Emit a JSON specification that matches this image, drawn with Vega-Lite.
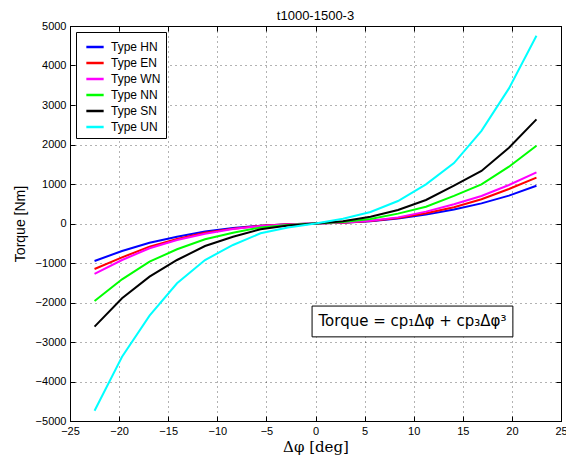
{
  "$schema": "https://vega.github.io/schema/vega-lite/v6.json",
  "width": 491,
  "height": 395,
  "autosize": {"type": "none"},
  "padding": {"left": 70, "top": 26, "right": 5, "bottom": 38},
  "title": {"text": "t1000-1500-3", "fontSize": 13, "fontWeight": "normal", "font": "Liberation Sans", "offset": 1, "dy": 4, "color": "#000"},
  "datasets": {
    "curves": [
      {"type": "Type HN", "x": -22.5, "torque": -949}, {"type": "Type HN", "x": -19.7, "torque": -696}, {"type": "Type HN", "x": -16.9, "torque": -486}, {"type": "Type HN", "x": -14.1, "torque": -334}, {"type": "Type HN", "x": -11.25, "torque": -205}, {"type": "Type HN", "x": -8.4, "torque": -115}, {"type": "Type HN", "x": -5.6, "torque": -55}, {"type": "Type HN", "x": -2.8, "torque": -20}, {"type": "Type HN", "x": 0, "torque": 0}, {"type": "Type HN", "x": 2.8, "torque": 22}, {"type": "Type HN", "x": 5.6, "torque": 60}, {"type": "Type HN", "x": 8.4, "torque": 125}, {"type": "Type HN", "x": 11.25, "torque": 225}, {"type": "Type HN", "x": 14.1, "torque": 355}, {"type": "Type HN", "x": 16.9, "torque": 510}, {"type": "Type HN", "x": 19.7, "torque": 705}, {"type": "Type HN", "x": 22.5, "torque": 957},
      {"type": "Type EN", "x": -22.5, "torque": -1152}, {"type": "Type EN", "x": -19.7, "torque": -857}, {"type": "Type EN", "x": -16.9, "torque": -587}, {"type": "Type EN", "x": -14.1, "torque": -392}, {"type": "Type EN", "x": -11.25, "torque": -235}, {"type": "Type EN", "x": -8.4, "torque": -130}, {"type": "Type EN", "x": -5.6, "torque": -60}, {"type": "Type EN", "x": -2.8, "torque": -22}, {"type": "Type EN", "x": 0, "torque": 0}, {"type": "Type EN", "x": 2.8, "torque": 22}, {"type": "Type EN", "x": 5.6, "torque": 65}, {"type": "Type EN", "x": 8.4, "torque": 140}, {"type": "Type EN", "x": 11.25, "torque": 258}, {"type": "Type EN", "x": 14.1, "torque": 410}, {"type": "Type EN", "x": 16.9, "torque": 613}, {"type": "Type EN", "x": 19.7, "torque": 873}, {"type": "Type EN", "x": 22.5, "torque": 1160},
      {"type": "Type WN", "x": -22.5, "torque": -1278}, {"type": "Type WN", "x": -19.7, "torque": -924}, {"type": "Type WN", "x": -16.9, "torque": -628}, {"type": "Type WN", "x": -14.1, "torque": -418}, {"type": "Type WN", "x": -11.25, "torque": -260}, {"type": "Type WN", "x": -8.4, "torque": -140}, {"type": "Type WN", "x": -5.6, "torque": -65}, {"type": "Type WN", "x": -2.8, "torque": -24}, {"type": "Type WN", "x": 0, "torque": 0}, {"type": "Type WN", "x": 2.8, "torque": 24}, {"type": "Type WN", "x": 5.6, "torque": 70}, {"type": "Type WN", "x": 8.4, "torque": 155}, {"type": "Type WN", "x": 11.25, "torque": 300}, {"type": "Type WN", "x": 14.1, "torque": 486}, {"type": "Type WN", "x": 16.9, "torque": 696}, {"type": "Type WN", "x": 19.7, "torque": 975}, {"type": "Type WN", "x": 22.5, "torque": 1296},
      {"type": "Type NN", "x": -22.5, "torque": -1962}, {"type": "Type NN", "x": -19.7, "torque": -1413}, {"type": "Type NN", "x": -16.9, "torque": -967}, {"type": "Type NN", "x": -14.1, "torque": -653}, {"type": "Type NN", "x": -11.25, "torque": -400}, {"type": "Type NN", "x": -8.4, "torque": -233}, {"type": "Type NN", "x": -5.6, "torque": -100}, {"type": "Type NN", "x": -2.8, "torque": -35}, {"type": "Type NN", "x": 0, "torque": 0}, {"type": "Type NN", "x": 2.8, "torque": 35}, {"type": "Type NN", "x": 5.6, "torque": 114}, {"type": "Type NN", "x": 8.4, "torque": 250}, {"type": "Type NN", "x": 11.25, "torque": 425}, {"type": "Type NN", "x": 14.1, "torque": 700}, {"type": "Type NN", "x": 16.9, "torque": 992}, {"type": "Type NN", "x": 19.7, "torque": 1438}, {"type": "Type NN", "x": 22.5, "torque": 1970},
      {"type": "Type SN", "x": -22.5, "torque": -2612}, {"type": "Type SN", "x": -19.7, "torque": -1894}, {"type": "Type SN", "x": -16.9, "torque": -1346}, {"type": "Type SN", "x": -14.1, "torque": -924}, {"type": "Type SN", "x": -11.25, "torque": -570}, {"type": "Type SN", "x": -8.4, "torque": -334}, {"type": "Type SN", "x": -5.6, "torque": -147}, {"type": "Type SN", "x": -2.8, "torque": -50}, {"type": "Type SN", "x": 0, "torque": 0}, {"type": "Type SN", "x": 2.8, "torque": 55}, {"type": "Type SN", "x": 5.6, "torque": 172}, {"type": "Type SN", "x": 8.4, "torque": 342}, {"type": "Type SN", "x": 11.25, "torque": 595}, {"type": "Type SN", "x": 14.1, "torque": 957}, {"type": "Type SN", "x": 16.9, "torque": 1329}, {"type": "Type SN", "x": 19.7, "torque": 1920}, {"type": "Type SN", "x": 22.5, "torque": 2637},
      {"type": "Type UN", "x": -22.5, "torque": -4739}, {"type": "Type UN", "x": -19.7, "torque": -3372}, {"type": "Type UN", "x": -16.9, "torque": -2334}, {"type": "Type UN", "x": -14.1, "torque": -1514}, {"type": "Type UN", "x": -11.25, "torque": -924}, {"type": "Type UN", "x": -8.4, "torque": -544}, {"type": "Type UN", "x": -5.6, "torque": -248}, {"type": "Type UN", "x": -2.8, "torque": -100}, {"type": "Type UN", "x": 0, "torque": 0}, {"type": "Type UN", "x": 2.8, "torque": 120}, {"type": "Type UN", "x": 5.6, "torque": 290}, {"type": "Type UN", "x": 8.4, "torque": 570}, {"type": "Type UN", "x": 11.25, "torque": 992}, {"type": "Type UN", "x": 14.1, "torque": 1530}, {"type": "Type UN", "x": 16.9, "torque": 2345}, {"type": "Type UN", "x": 19.7, "torque": 3420}, {"type": "Type UN", "x": 22.5, "torque": 4755}
    ],
    "note": [
      {"label": "Torque = cp₁Δφ + cp₃Δφ³", "x1": -0.35, "x2": 20.1, "y1": -2090, "y2": -2870, "xm": 9.875, "ym": -2480}
    ]
  },
  "layer": [
    {
      "data": {"name": "curves"},
      "mark": {"type": "line", "strokeWidth": 2},
      "encoding": {
        "x": {"field": "x", "type": "quantitative", "scale": {"domain": [-25, 25], "nice": false, "zero": false},
          "axis": {"title": "Δφ [deg]", "values": [-25, -20, -15, -10, -5, 0, 5, 10, 15, 20, 25], "titleFontSize": 15, "titlePadding": 3, "titleFont": "DejaVu Serif", "titleFontWeight": "normal"}},
        "y": {"field": "torque", "type": "quantitative", "scale": {"domain": [-5000, 5000], "nice": false},
          "axis": {"title": "Torque [Nm]", "values": [-5000, -4000, -3000, -2000, -1000, 0, 1000, 2000, 3000, 4000, 5000], "titleFontSize": 14, "titlePadding": 8, "titleFontWeight": "normal"}},
        "color": {"field": "type", "type": "nominal",
          "scale": {"domain": ["Type HN", "Type EN", "Type WN", "Type NN", "Type SN", "Type UN"], "range": ["#0000ff", "#ff0000", "#ff00ff", "#00ff00", "#000000", "#00ffff"]},
          "legend": {"title": null, "orient": "top-left", "offset": 6, "symbolType": "stroke", "symbolStrokeWidth": 2.5, "symbolSize": 300, "labelFontSize": 12, "labelFont": "Liberation Sans", "strokeColor": "#000", "fillColor": "#fff", "padding": 5, "rowPadding": 0, "labelOffset": 6, "labelColor": "#000", "symbolOffset": 4}}
      }
    },
    {
      "data": {"name": "note"},
      "mark": {"type": "rect", "fill": "#fff", "stroke": "#000", "strokeWidth": 1},
      "encoding": {
        "x": {"field": "x1", "type": "quantitative", "axis": {"orient": "top", "labels": false, "title": null, "grid": false, "values": [-25, -20, -15, -10, -5, 0, 5, 10, 15, 20, 25]}},
        "x2": {"field": "x2"},
        "y": {"field": "y1", "type": "quantitative", "axis": {"orient": "right", "labels": false, "title": null, "grid": false, "values": [-5000, -4000, -3000, -2000, -1000, 0, 1000, 2000, 3000, 4000, 5000]}},
        "y2": {"field": "y2"}
      }
    },
    {
      "data": {"name": "note"},
      "mark": {"type": "text", "fontSize": 15, "font": "DejaVu Sans", "color": "#000", "align": "center", "baseline": "middle"},
      "encoding": {
        "x": {"field": "xm", "type": "quantitative", "axis": null},
        "y": {"field": "ym", "type": "quantitative", "axis": null},
        "text": {"field": "label"}
      }
    }
  ],
  "resolve": {"axis": {"x": "independent", "y": "independent"}},
  "config": {
    "view": {"stroke": "#000", "strokeWidth": 1},
    "font": "Liberation Sans",
    "axis": {
      "domainColor": "#000", "tickColor": "#000", "labelColor": "#000", "titleColor": "#000",
      "labelFontSize": 11, "labelFont": "Liberation Sans",
      "tickSize": -5, "labelPadding": 9,
      "grid": true, "gridColor": "#000", "gridDash": [1, 4], "gridOpacity": 0.6,
      "labelFlush": false, "labelOverlap": false, "format": "d"
    }
  }
}
